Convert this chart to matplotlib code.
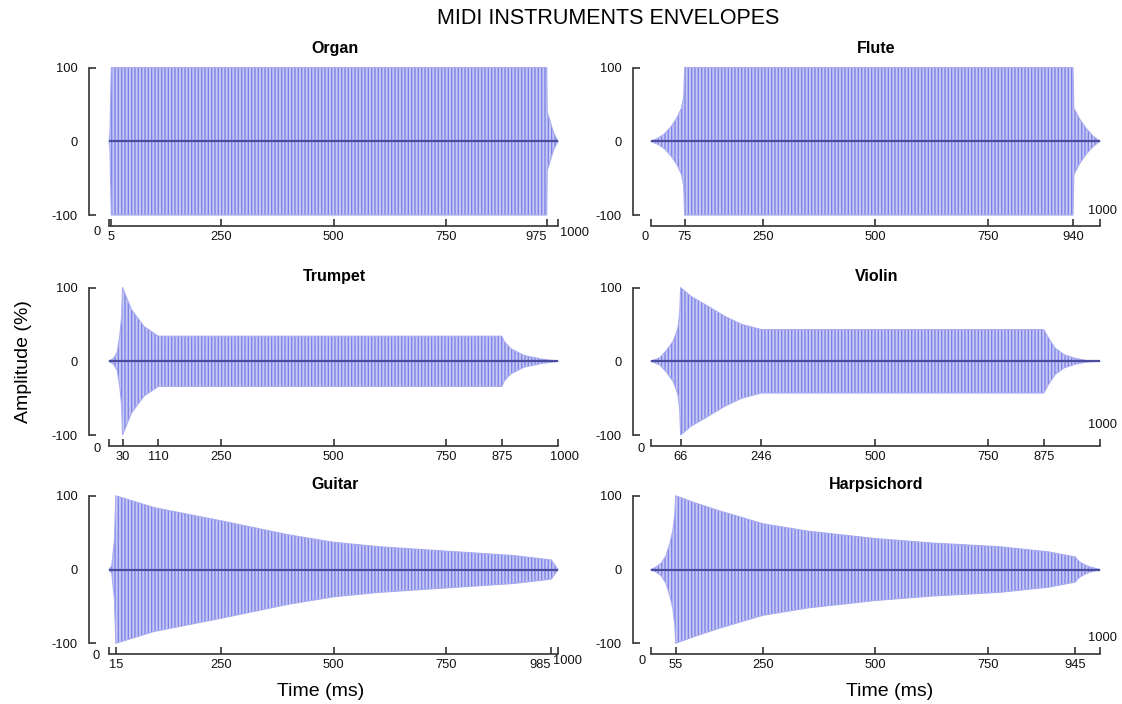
import matplotlib
matplotlib.use("Agg")
import matplotlib.pyplot as plt
from matplotlib.transforms import ScaledTranslation

plt.rcParams['font.family'] = ['Liberation Sans', 'DejaVu Sans']
plt.rcParams['hatch.linewidth'] = 1.0
plt.rcParams['hatch.color'] = '#7f83e6'

# envelope breakpoints (time in ms, amplitude in %)
organ_t = [0, 2, 5, 975, 976, 982, 990, 1000]
organ_a = [0, 12, 100, 100, 40, 28, 12, 0]

flute_t = [0, 15, 30, 45, 58, 68, 73, 75, 940, 942, 955, 970, 985, 1000]
flute_a = [0, 4, 10, 20, 32, 45, 60, 100, 100, 45, 30, 17, 7, 0]

trumpet_t = [0, 10, 18, 24, 28, 30, 50, 78, 110, 200, 400, 600, 875, 880,
             895, 924, 963, 1000]
trumpet_a = [0, 4, 12, 35, 60, 100, 70, 47, 34, 34, 34, 34, 34, 27, 17, 8,
             3, 0]

violin_t = [0, 20, 35, 50, 60, 64, 66, 89, 126, 164, 202, 246, 500, 875,
            885, 900, 920, 945, 970, 1000]
violin_a = [0, 5, 15, 28, 45, 65, 100, 88, 75, 61, 50, 43, 43, 43, 32, 18,
            9, 4, 1, 0]

guitar_t = [0, 6, 12, 15, 100, 250, 400, 500, 600, 750, 900, 985, 992, 1000]
guitar_a = [0, 5, 40, 100, 84, 66, 47, 37, 31, 25, 19, 13, 7, 0]

harpsichord_t = [0, 10, 22, 33, 42, 49, 53, 55, 100, 150, 250, 350, 500,
                 625, 775, 885, 945, 955, 975, 1000]
harpsichord_a = [0, 3, 8, 18, 35, 54, 75, 100, 90, 80, 62, 52, 42, 36, 31,
                 24, 17, 10, 4, 0]

# axis ticks per instrument
organ_ticks = [0, 5, 250, 500, 750, 975, 1000]
flute_ticks = [0, 75, 250, 500, 750, 940, 1000]
trumpet_ticks = [0, 30, 110, 250, 500, 750, 875, 1000]
violin_ticks = [0, 66, 246, 500, 750, 875, 1000]
guitar_ticks = [0, 15, 250, 500, 750, 985, 1000]
harpsichord_ticks = [0, 55, 250, 500, 750, 945, 1000]

names = ["Organ", "Flute", "Trumpet", "Violin", "Guitar", "Harpsichord"]
envelopes = [(organ_t, organ_a), (flute_t, flute_a), (trumpet_t, trumpet_a),
             (violin_t, violin_a), (guitar_t, guitar_a),
             (harpsichord_t, harpsichord_a)]
ticks = [organ_ticks, flute_ticks, trumpet_ticks, violin_ticks,
         guitar_ticks, harpsichord_ticks]

# layout (figure fractions / pixel offsets)
col_left = [0.0952, 0.5782]
col_width = 0.4061
row_bottom = [0.6893, 0.3768, 0.0810]
row_height = 0.2200
title_pad = [7.8, 1.5, 0.5]
left_out = [12.8, 11.5]
# offsets (pixels) of the stray "0" and "1000" labels
zero_off = [(-12, -13), (-6, -18), (-12, -10), (-10, -10), (-13, -9), (-9, -14)]
end_off = [(17, -14), (3, 8), None, (3, 14), (10, -14), (3, 9)]

fill_col = '#c6c9f4'
hatch_col = '#7f83e6'
edge_col = '#a9acf0'
line_col = '#4b4c9c'
axis_col = '#333333'

fig = plt.figure(figsize=(11.22, 7.04), dpi=100)

for i, name in enumerate(names):
    r, c = divmod(i, 2)
    ax = fig.add_axes([col_left[c], row_bottom[r], col_width, row_height])
    t, a = envelopes[i]
    neg = [-v for v in a]
    ax.fill_between(t, neg, a, facecolor=fill_col, edgecolor=hatch_col,
                    hatch='|||||', linewidth=0, zorder=2)
    ax.plot(t, a, color=edge_col, lw=0.8, zorder=3)
    ax.plot(t, neg, color=edge_col, lw=0.8, zorder=3)
    ax.hlines(0, t[0], t[-1], color=line_col, lw=1.6, zorder=4)

    ax.set_xlim(-5, 1010)
    ax.set_ylim(-105, 105)
    for s in ['top', 'right']:
        ax.spines[s].set_visible(False)
    ax.spines['left'].set_position(('outward', left_out[c]))
    ax.spines['bottom'].set_position(('outward', 5.3))
    ax.spines['left'].set_bounds(-100, 100)
    ax.spines['bottom'].set_bounds(0, 1000)
    for s in ['left', 'bottom']:
        ax.spines[s].set_color(axis_col)
        ax.spines[s].set_linewidth(1.2)

    ax.set_yticks([-100, 0, 100])
    ax.set_yticklabels(['-100', '0', '100'])
    ax.yaxis.get_major_ticks()[1].tick1line.set_visible(False)
    labels = []
    for v in ticks[i]:
        if v == 0 or (v == 1000 and name != "Trumpet"):
            labels.append('')
        else:
            labels.append(str(v))
    ax.set_xticks(ticks[i])
    ax.set_xticklabels(labels)
    ax.tick_params(axis='both', direction='in', length=5, width=1.2,
                   color=axis_col, labelsize=9.3, labelcolor='#111111')
    ax.tick_params(axis='y', pad=8)
    ax.tick_params(axis='x', pad=3.5)

    # labels near the spine end sit off their tick in the reference
    for v, lab in zip(ticks[i], ax.get_xticklabels()):
        if v in (975, 985):
            lab.set_horizontalalignment('right')
        if v == 1000 and name == "Trumpet":
            lab.set_transform(lab.get_transform() +
                              ScaledTranslation(0.07, 0, fig.dpi_scale_trans))

    trans = ax.get_xaxis_transform()
    ax.annotate('0', xy=(0, 0), xycoords=trans, xytext=zero_off[i],
                textcoords='offset pixels', ha='center', va='center',
                fontsize=9.3, color='#111111')
    if end_off[i] is not None:
        ax.annotate('1000', xy=(1000, 0), xycoords=trans, xytext=end_off[i],
                    textcoords='offset pixels', ha='center', va='center',
                    fontsize=9.3, color='#111111')

    ax.set_title(name, fontsize=11.5, fontweight='bold', pad=title_pad[r])

fig.text(608 / 1122, 1 - 18 / 704, "MIDI INSTRUMENTS ENVELOPES",
         ha='center', va='center', fontsize=15.5)
fig.text(24 / 1122, 1 - 362 / 704, "Amplitude (%)", rotation=90,
         ha='center', va='center', fontsize=14)
fig.text(321 / 1122, 1 - 692 / 704, "Time (ms)", ha='center', va='center',
         fontsize=14)
fig.text(890 / 1122, 1 - 692 / 704, "Time (ms)", ha='center', va='center',
         fontsize=14)

fig.savefig("out.png", dpi=100)
